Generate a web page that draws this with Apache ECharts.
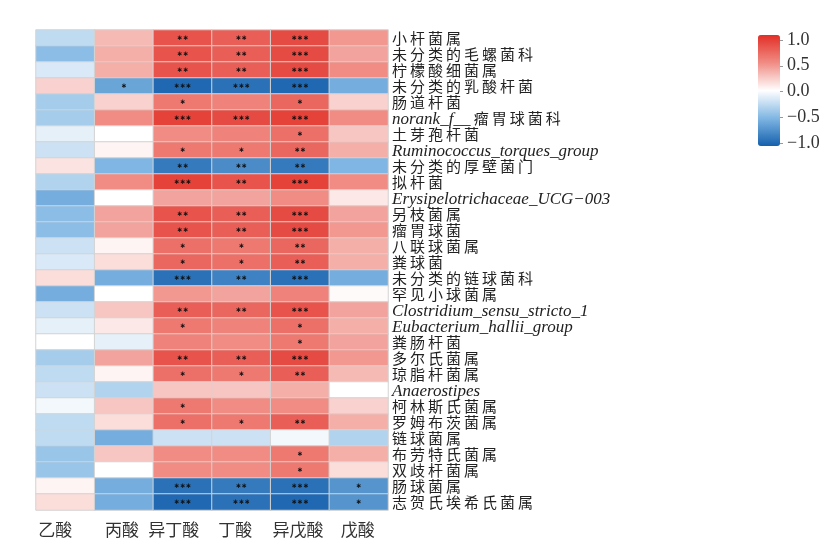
<!DOCTYPE html>
<html>
<head>
<meta charset="utf-8">
<script src="https://cdn.jsdelivr.net/npm/echarts@6/dist/echarts.min.js"></script>
<style>
  html, body { margin: 0; padding: 0; background: #fff; }
  #chart { width: 835px; height: 540px; }
</style>
</head>
<body>
<div id="chart"></div>
<script>
// Short-chain fatty acids (columns)
const acids = ['乙酸', '丙酸', '异丁酸', '丁酸', '异戊酸', '戊酸'];

// Bacterial taxa (rows, top to bottom)
const taxa = [
  '小杆菌属', '未分类的毛螺菌科', '柠檬酸细菌属', '未分类的乳酸杆菌', '肠道杆菌',
  'norank_f__瘤胃球菌科', '土芽孢杆菌', 'Ruminococcus_torques_group', '未分类的厚壁菌门', '拟杆菌',
  'Erysipelotrichaceae_UCG−003', '另枝菌属', '瘤胃球菌', '八联球菌属', '粪球菌',
  '未分类的链球菌科', '罕见小球菌属', 'Clostridium_sensu_stricto_1', 'Eubacterium_hallii_group', '粪肠杆菌',
  '多尔氏菌属', '琼脂杆菌属', 'Anaerostipes', '柯林斯氏菌属', '罗姆布茨菌属',
  '链球菌属', '布劳特氏菌属', '双歧杆菌属', '肠球菌属', '志贺氏埃希氏菌属'
];

// Correlation coefficients, one row per taxon, columns in acid order
const corr = [
  [-0.25,  0.30,  0.80,  0.75,  0.85,  0.45],
  [-0.45,  0.35,  0.80,  0.75,  0.85,  0.40],
  [-0.15,  0.35,  0.80,  0.75,  0.85,  0.50],
  [ 0.20, -0.60, -0.95, -0.90, -0.95, -0.55],
  [-0.35,  0.20,  0.60,  0.55,  0.70,  0.20],
  [-0.35,  0.50,  0.90,  0.85,  0.90,  0.50],
  [-0.10,  0.00,  0.50,  0.55,  0.65,  0.25],
  [-0.20,  0.05,  0.60,  0.60,  0.70,  0.35],
  [ 0.12, -0.50, -0.85, -0.75, -0.85, -0.50],
  [-0.30,  0.50,  0.90,  0.80,  0.90,  0.50],
  [-0.55,  0.00,  0.40,  0.40,  0.50,  0.10],
  [-0.45,  0.40,  0.80,  0.75,  0.85,  0.40],
  [-0.45,  0.40,  0.80,  0.75,  0.85,  0.45],
  [-0.20,  0.05,  0.65,  0.60,  0.70,  0.35],
  [-0.15,  0.15,  0.70,  0.65,  0.75,  0.35],
  [ 0.15, -0.55, -0.90, -0.80, -0.90, -0.55],
  [-0.55,  0.00,  0.45,  0.40,  0.55,  0.02],
  [-0.20,  0.25,  0.75,  0.70,  0.80,  0.40],
  [-0.10,  0.10,  0.60,  0.55,  0.65,  0.35],
  [ 0.00, -0.10,  0.55,  0.50,  0.60,  0.40],
  [-0.35,  0.40,  0.80,  0.75,  0.85,  0.45],
  [-0.25,  0.05,  0.65,  0.60,  0.75,  0.30],
  [-0.20, -0.30,  0.25,  0.25,  0.35,  0.00],
  [-0.05,  0.25,  0.60,  0.50,  0.50,  0.20],
  [-0.25,  0.15,  0.65,  0.60,  0.75,  0.35],
  [-0.25, -0.55, -0.20, -0.20, -0.05, -0.30],
  [-0.40,  0.25,  0.50,  0.50,  0.60,  0.35],
  [-0.40,  0.00,  0.50,  0.50,  0.60,  0.15],
  [ 0.05, -0.55, -0.90, -0.85, -0.90, -0.70],
  [ 0.15, -0.55, -0.95, -0.90, -0.95, -0.70]
];

// Significance marks (* p<0.05, ** p<0.01, *** p<0.001)
const signif = [
  ['', '', '**', '**', '***', ''],
  ['', '', '**', '**', '***', ''],
  ['', '', '**', '**', '***', ''],
  ['', '*', '***', '***', '***', ''],
  ['', '', '*', '', '*', ''],
  ['', '', '***', '***', '***', ''],
  ['', '', '', '', '*', ''],
  ['', '', '*', '*', '**', ''],
  ['', '', '**', '**', '**', ''],
  ['', '', '***', '**', '***', ''],
  ['', '', '', '', '', ''],
  ['', '', '**', '**', '***', ''],
  ['', '', '**', '**', '***', ''],
  ['', '', '*', '*', '**', ''],
  ['', '', '*', '*', '**', ''],
  ['', '', '***', '**', '***', ''],
  ['', '', '', '', '', ''],
  ['', '', '**', '**', '***', ''],
  ['', '', '*', '', '*', ''],
  ['', '', '', '', '*', ''],
  ['', '', '**', '**', '***', ''],
  ['', '', '*', '*', '**', ''],
  ['', '', '', '', '', ''],
  ['', '', '*', '', '', ''],
  ['', '', '*', '*', '**', ''],
  ['', '', '', '', '', ''],
  ['', '', '', '', '*', ''],
  ['', '', '', '', '*', ''],
  ['', '', '***', '**', '***', '*'],
  ['', '', '***', '***', '***', '*']
];

// Colour bar tick values
const barTicks = [-1.0, -0.5, 0.0, 0.5, 1.0];

// Leftward nudge (px) of each column caption under the heatmap
const captionShift = [10, 2, 9, 6, 2, 1];

const cells = [];
corr.forEach((row, i) => row.forEach((v, j) => cells.push([j, i, v])));

const acidAxisData = acids.map((a, j) => ({
  value: a,
  textStyle: { padding: [0, captionShift[j] * 2, 0, 0] }
}));

const spaced = s => s.split('').join('\u2009');
function taxonLabel(name) {
  const m = name.match(/^([A-Za-z_0-9]+)(.*)$/);
  if (!m) return '{c|' + spaced(name) + '}';
  if (m[2] && /^[\u4e00-\u9fff]/.test(m[2])) return '{i|' + m[1] + '} {c|' + spaced(m[2]) + '}';
  return '{i|' + name + '}';
}

const serif = '"Liberation Serif", "DejaVu Serif", serif';
const cjk = '"Noto Sans CJK SC", sans-serif';

const chart = echarts.init(document.getElementById('chart'));
chart.setOption({
  backgroundColor: '#fff',
  animation: false,
  grid: [
    { left: 36, top: 30, width: 352, height: 480 },
    { left: 780, top: 40, width: 1, height: 103 }
  ],
  xAxis: [
    {
      type: 'category', data: acidAxisData, gridIndex: 0,
      axisLine: { show: false }, axisTick: { show: false }, splitLine: { show: false },
      axisLabel: { interval: 0, fontFamily: cjk, fontSize: 17, color: '#333', margin: 11 }
    },
    { type: 'value', gridIndex: 1, show: false, min: 0, max: 1 }
  ],
  yAxis: [
    {
      type: 'category', data: taxa, inverse: true, position: 'right', gridIndex: 0,
      axisLine: { show: false }, axisTick: { show: false }, splitLine: { show: false },
      axisLabel: {
        interval: 0, margin: 4, align: 'left',
        formatter: taxonLabel,
        rich: {
          c: { fontFamily: cjk, fontSize: 15, color: '#222' },
          i: { fontFamily: serif, fontStyle: 'italic', fontSize: 17, color: '#222', padding: [4, 0, 0, 0] }
        }
      }
    },
    {
      type: 'value', gridIndex: 1, position: 'right', min: barTicks[0], max: barTicks[barTicks.length - 1],
      interval: 0.5,
      axisLine: { show: false },
      axisTick: { show: true, length: 3, lineStyle: { color: '#999' } },
      splitLine: { show: false },
      axisLabel: {
        margin: 6, fontFamily: serif, fontSize: 18, color: '#333',
        formatter: v => (v < 0 ? '\u2212' : '') + Math.abs(v).toFixed(1)
      }
    }
  ],
  visualMap: {
    type: 'continuous', min: -1, max: 1, calculable: false, orient: 'vertical',
    left: 758, top: 35, itemWidth: 22, itemHeight: 111, padding: 0,
    seriesIndex: 0, hoverLink: false,
    inRange: { color: ['#1560ad', '#7fb6e3', '#ffffff', '#f08c84', '#e22f27'] }
  },
  series: [
    {
      type: 'heatmap', xAxisIndex: 0, yAxisIndex: 0, data: cells,
      itemStyle: { borderColor: '#d3d3d3', borderWidth: 1 },
      label: {
        show: true, color: '#111', fontSize: 7, fontWeight: 'bold', fontFamily: '"DejaVu Sans", sans-serif',
        formatter: p => signif[p.data[1]][p.data[0]].replace(/\*/g, '\u2217')
      },
      emphasis: { disabled: true }
    },
    { type: 'scatter', xAxisIndex: 1, yAxisIndex: 1, data: [], silent: true }
  ]
});
</script>
</body>
</html>
